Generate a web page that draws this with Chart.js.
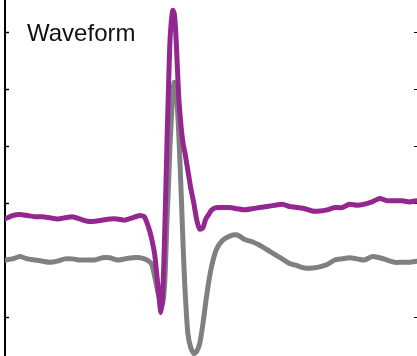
<!DOCTYPE html>
<html>
<head>
<meta charset="utf-8">
<script src="https://cdn.jsdelivr.net/npm/chart.js@4/dist/chart.umd.min.js"></script>
<style>
  body { margin: 0; background: #fff; }
  .wrap { position: relative; width: 417px; height: 356px; }
  .titulo {
    position: absolute; left: 27px; top: 21px;
    font: 24px/24px Arial, "Liberation Sans", sans-serif;
    color: #111;
  }
</style>
</head>
<body>
<div class="wrap">
  <canvas id="grafico"></canvas>
  <div class="titulo">Waveform</div>
</div>
<script>
// =============================================
//  DADOS
// =============================================
const tempoMs = [
  0, 0.05, 0.10, 0.15, 0.20, 0.25, 0.30, 0.35, 0.40, 0.45,
  0.50, 0.55, 0.60, 0.65, 0.70, 0.75, 0.80, 0.85, 0.90, 0.93,
  0.96, 0.98, 1.00, 1.02, 1.03, 1.04, 1.05, 1.06, 1.07, 1.08,
  1.09, 1.10, 1.11, 1.12, 1.13, 1.14, 1.15, 1.16, 1.17, 1.18,
  1.19, 1.20, 1.22, 1.24, 1.26, 1.28, 1.30, 1.32, 1.34, 1.36,
  1.38, 1.41, 1.45, 1.50, 1.55, 1.60, 1.65, 1.70, 1.75, 1.80,
  1.85, 1.90, 1.95, 2.00, 2.05, 2.10, 2.15, 2.20, 2.25, 2.30,
  2.35, 2.40, 2.45, 2.50, 2.55, 2.60, 2.65, 2.70, 2.75
];

// µV
const ondaRoxa = [
  36, 39, 40, 39, 38, 38, 37, 36, 37, 38,
  36, 34, 34, 35, 36, 36, 35, 37, 39, 38,
  28, 18, 4, -22, -35, -46, -35, -4, 44, 96,
  145, 189, 209, 219, 216, 199, 171, 142, 125, 111,
  101, 95, 79, 63, 50, 35, 27, 28, 36, 40,
  44, 46, 46, 46, 45, 44, 45, 46, 47, 48,
  49, 47, 46, 45, 43, 43, 44, 46, 46, 49,
  48, 49, 51, 54, 52, 52, 52, 51, 52
];

const ondaCinza = [
  0, 1, 3, 1, 0, -1, -2, -1, 1, 1,
  0, 0, 0, 2, 2, 0, 1, 2, 2, 1,
  -1, -4, -15, -28, -33, -38, -39, -31, -9, 31,
  61, 96, 123, 147, 156, 154, 136, 110, 79, 44,
  9, -22, -64, -77, -82, -80, -73, -57, -37, -19,
  -5, 9, 17, 21, 22, 18, 16, 13, 9, 5,
  1, -3, -5, -7, -7, -6, -4, 0, 1, 2,
  1, 0, 3, 2, 0, -2, -2, -2, -1
];

const ticksY = [-50, 0, 50, 100, 150, 200];
const yMin = -84.2;
const yMax = 228.1;

function pontos(serie) {
  return tempoMs.map((t, i) => ({ x: t, y: serie[i] }));
}

// =============================================
//  GRÁFICO
// =============================================
function soTicks(scale) {
  scale.ticks = ticksY.map(v => ({ value: v }));
}

const ctx = document.getElementById('grafico').getContext('2d');

new Chart(ctx, {
  type: 'line',
  data: {
    datasets: [
      {
        label: 'roxa',
        data: pontos(ondaRoxa),
        borderColor: '#93278f',
        borderWidth: 5,
        tension: 0.2,
        pointRadius: 0,
        borderJoinStyle: 'round',
        borderCapStyle: 'round'
      },
      {
        label: 'cinza',
        data: pontos(ondaCinza),
        borderColor: '#808080',
        borderWidth: 5,
        tension: 0.2,
        pointRadius: 0,
        borderJoinStyle: 'round',
        borderCapStyle: 'round'
      }
    ]
  },
  options: {
    responsive: true,
    maintainAspectRatio: false,
    animation: false,
    events: [],
    layout: { padding: 0 },
    plugins: {
      legend: { display: false },
      tooltip: { enabled: false }
    },
    scales: {
      x: { type: 'linear', min: 0, max: 2.75, display: false },
      y: {
        position: 'left',
        min: yMin,
        max: yMax,
        afterBuildTicks: soTicks,
        afterFit: s => { s.width = 5; },
        ticks: { display: false },
        grid: { drawOnChartArea: false, tickLength: -4, tickWidth: 1.5, tickColor: '#000' },
        border: { display: true, color: '#000', width: 2 }
      },
      y2: {
        position: 'right',
        min: yMin,
        max: yMax,
        afterBuildTicks: soTicks,
        afterFit: s => { s.width = 0; },
        ticks: { display: false },
        grid: { drawOnChartArea: false, tickLength: -3, tickWidth: 1, tickColor: '#000' },
        border: { display: false }
      }
    }
  }
});
</script>
</body>
</html>
